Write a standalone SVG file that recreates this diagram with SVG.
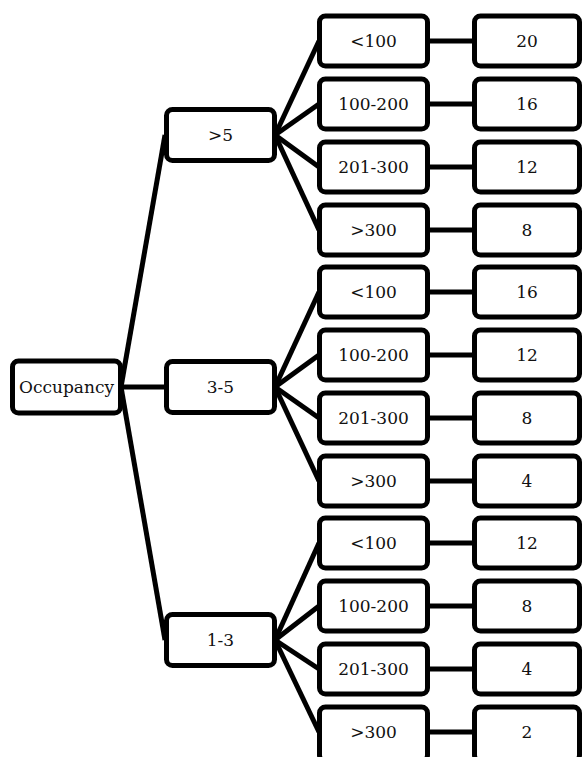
<svg xmlns="http://www.w3.org/2000/svg" width="582" height="757" viewBox="0 0 582 757">
<style>
.box{fill:#fff;stroke:#000;stroke-width:5}
.t{font-family:"DejaVu Serif","Liberation Serif",serif;font-size:17px;fill:#111;text-anchor:middle}
.c line{stroke:#000;stroke-width:5;stroke-linecap:butt}
</style>
<rect width="582" height="757" fill="#fff"/>
<g class="c" id="connectors">
<line x1="121" y1="387" x2="165" y2="135"/>
<line x1="121" y1="387" x2="165" y2="387"/>
<line x1="121" y1="387" x2="165" y2="640"/>
<line x1="275" y1="135" x2="319" y2="41"/>
<line x1="275" y1="135" x2="319" y2="104"/>
<line x1="275" y1="135" x2="319" y2="167"/>
<line x1="275" y1="135" x2="319" y2="230"/>
<line x1="275" y1="387" x2="319" y2="292"/>
<line x1="275" y1="387" x2="319" y2="355"/>
<line x1="275" y1="387" x2="319" y2="418"/>
<line x1="275" y1="387" x2="319" y2="481"/>
<line x1="275" y1="640" x2="319" y2="543"/>
<line x1="275" y1="640" x2="319" y2="606"/>
<line x1="275" y1="640" x2="319" y2="669"/>
<line x1="275" y1="640" x2="319" y2="732"/>
<line x1="428" y1="41" x2="475" y2="41"/>
<line x1="428" y1="104" x2="475" y2="104"/>
<line x1="428" y1="167" x2="475" y2="167"/>
<line x1="428" y1="230" x2="475" y2="230"/>
<line x1="428" y1="292" x2="475" y2="292"/>
<line x1="428" y1="355" x2="475" y2="355"/>
<line x1="428" y1="418" x2="475" y2="418"/>
<line x1="428" y1="481" x2="475" y2="481"/>
<line x1="428" y1="543" x2="475" y2="543"/>
<line x1="428" y1="606" x2="475" y2="606"/>
<line x1="428" y1="669" x2="475" y2="669"/>
<line x1="428" y1="732" x2="475" y2="732"/>
</g>
<g id="occupancy"><rect class="box" x="12.5" y="361" width="108" height="52" rx="6"/><text class="t" x="66.5" y="393">Occupancy</text></g>
<g id="gt5"><rect class="box" x="166.5" y="109.5" width="108" height="51" rx="6"/><text class="t" x="220.5" y="141">&gt;5</text></g>
<g id="r3to5"><rect class="box" x="166.5" y="361.5" width="108" height="51" rx="6"/><text class="t" x="220.5" y="393">3-5</text></g>
<g id="r1to3"><rect class="box" x="166.5" y="614.5" width="108" height="51" rx="6"/><text class="t" x="220.5" y="646">1-3</text></g>

<g id="a1"><rect class="box" x="319.5" y="16" width="108" height="50" rx="6"/><text class="t" x="373.5" y="47">&lt;100</text></g>
<g id="a2"><rect class="box" x="319.5" y="79" width="108" height="50" rx="6"/><text class="t" x="373.5" y="110">100-200</text></g>
<g id="a3"><rect class="box" x="319.5" y="142" width="108" height="50" rx="6"/><text class="t" x="373.5" y="173">201-300</text></g>
<g id="a4"><rect class="box" x="319.5" y="205" width="108" height="50" rx="6"/><text class="t" x="373.5" y="236">&gt;300</text></g>
<g id="b1"><rect class="box" x="319.5" y="267" width="108" height="50" rx="6"/><text class="t" x="373.5" y="298">&lt;100</text></g>
<g id="b2"><rect class="box" x="319.5" y="330" width="108" height="50" rx="6"/><text class="t" x="373.5" y="361">100-200</text></g>
<g id="b3"><rect class="box" x="319.5" y="393" width="108" height="50" rx="6"/><text class="t" x="373.5" y="424">201-300</text></g>
<g id="b4"><rect class="box" x="319.5" y="456" width="108" height="50" rx="6"/><text class="t" x="373.5" y="487">&gt;300</text></g>
<g id="c1"><rect class="box" x="319.5" y="518" width="108" height="50" rx="6"/><text class="t" x="373.5" y="549">&lt;100</text></g>
<g id="c2"><rect class="box" x="319.5" y="581" width="108" height="50" rx="6"/><text class="t" x="373.5" y="612">100-200</text></g>
<g id="c3"><rect class="box" x="319.5" y="644" width="108" height="50" rx="6"/><text class="t" x="373.5" y="675">201-300</text></g>
<g id="c4"><rect class="box" x="319.5" y="707" width="108" height="54" rx="6"/><text class="t" x="373.5" y="738">&gt;300</text></g>

<g id="v1"><rect class="box" x="474.5" y="16" width="105" height="50" rx="6"/><text class="t" x="527" y="47">20</text></g>
<g id="v2"><rect class="box" x="474.5" y="79" width="105" height="50" rx="6"/><text class="t" x="527" y="110">16</text></g>
<g id="v3"><rect class="box" x="474.5" y="142" width="105" height="50" rx="6"/><text class="t" x="527" y="173">12</text></g>
<g id="v4"><rect class="box" x="474.5" y="205" width="105" height="50" rx="6"/><text class="t" x="527" y="236">8</text></g>
<g id="v5"><rect class="box" x="474.5" y="267" width="105" height="50" rx="6"/><text class="t" x="527" y="298">16</text></g>
<g id="v6"><rect class="box" x="474.5" y="330" width="105" height="50" rx="6"/><text class="t" x="527" y="361">12</text></g>
<g id="v7"><rect class="box" x="474.5" y="393" width="105" height="50" rx="6"/><text class="t" x="527" y="424">8</text></g>
<g id="v8"><rect class="box" x="474.5" y="456" width="105" height="50" rx="6"/><text class="t" x="527" y="487">4</text></g>
<g id="v9"><rect class="box" x="474.5" y="518" width="105" height="50" rx="6"/><text class="t" x="527" y="549">12</text></g>
<g id="v10"><rect class="box" x="474.5" y="581" width="105" height="50" rx="6"/><text class="t" x="527" y="612">8</text></g>
<g id="v11"><rect class="box" x="474.5" y="644" width="105" height="50" rx="6"/><text class="t" x="527" y="675">4</text></g>
<g id="v12"><rect class="box" x="474.5" y="707" width="105" height="54" rx="6"/><text class="t" x="527" y="738">2</text></g>
</svg>
